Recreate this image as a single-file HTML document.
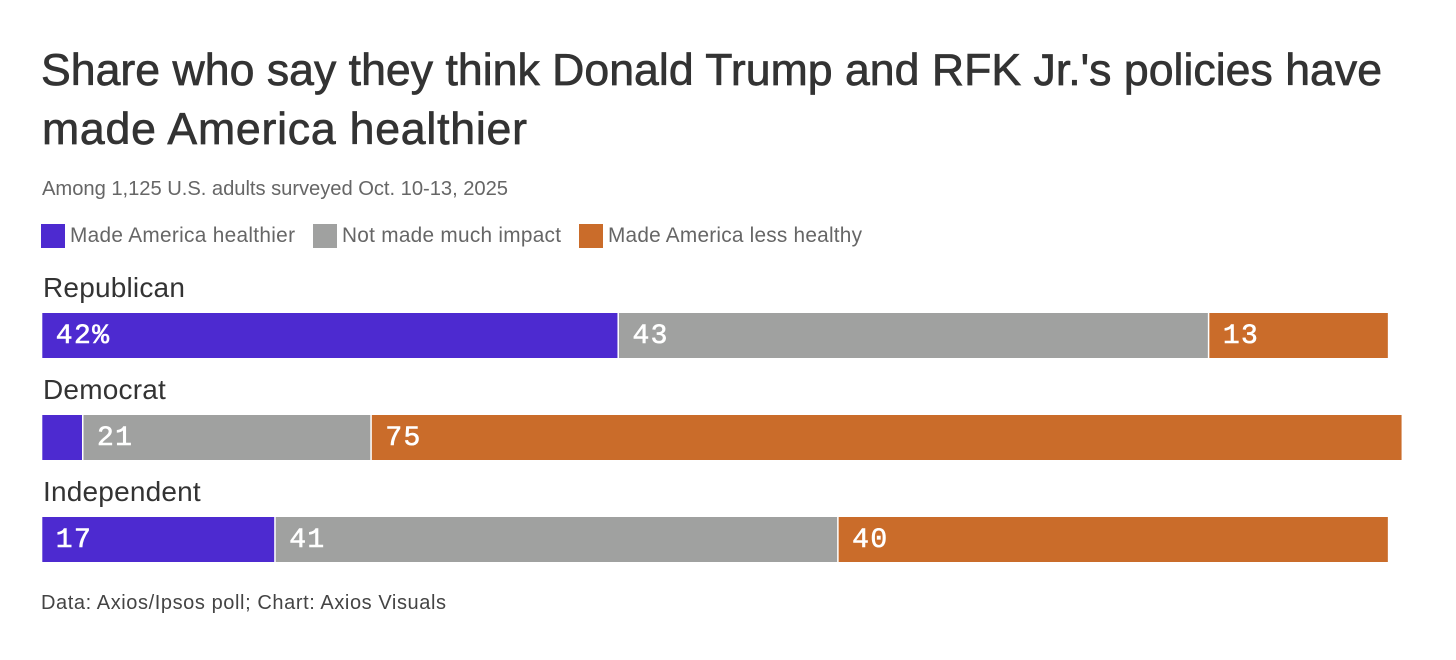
<!DOCTYPE html>
<html lang="en">
<head>
<meta charset="utf-8">
<title>Share who say they think Donald Trump and RFK Jr.'s policies have made America healthier</title>
<style>
html,body{margin:0;padding:0;background:#fff;width:1456px;height:660px;overflow:hidden}
svg{display:block}
text{font-family:"Liberation Sans",sans-serif}
.title{font-size:44.6px;fill:#333;stroke:#333;stroke-width:.7px}
.sub{font-size:20.2px;fill:#666}
.leg{font-size:20.8px;fill:#666}
.foot{font-size:20px;fill:#444}
.row{font-size:28px;fill:#333;letter-spacing:.2px}
.val{font-family:"Liberation Mono",monospace;font-size:28px;fill:#fff;stroke:#fff;stroke-width:.6px;letter-spacing:1.4px}
</style>
</head>
<body>
<svg id="chart" width="1456" height="660" viewBox="0 0 1456 660" xmlns="http://www.w3.org/2000/svg">
  <text class="title" x="41" y="85" textLength="1341" lengthAdjust="spacing">Share who say they think Donald Trump and RFK Jr.'s policies have</text>
  <text class="title" x="42" y="144" textLength="485" lengthAdjust="spacing">made America healthier</text>
  <text class="sub" x="42" y="195" textLength="466" lengthAdjust="spacing">Among 1,125 U.S. adults surveyed Oct. 10-13, 2025</text>

  <rect x="41" y="224" width="24" height="24" fill="#4d2ad0"/>
  <text class="leg" x="70" y="242" textLength="225" lengthAdjust="spacing">Made America healthier</text>
  <rect x="313" y="224" width="24" height="24" fill="#a0a1a0"/>
  <text class="leg" x="342" y="242" textLength="219" lengthAdjust="spacing">Not made much impact</text>
  <rect x="579" y="224" width="24" height="24" fill="#ca6c2a"/>
  <text class="leg" x="608" y="242" textLength="254" lengthAdjust="spacing">Made America less healthy</text>

  <g id="bars"></g>

  <text class="foot" x="41" y="609" textLength="405" lengthAdjust="spacing">Data: Axios/Ipsos poll; Chart: Axios Visuals</text>
</svg>
<script>
var categories = ['Republican', 'Democrat', 'Independent'];
var healthier = [42, 3, 17];
var noImpact = [43, 21, 41];
var lessHealthy = [13, 75, 40];
var seriesNames = ['healthier', 'no-impact', 'less-healthy'];
var seriesColors = ['#4d2ad0', '#a0a1a0', '#ca6c2a'];

var NS = 'http://www.w3.org/2000/svg';
var barsGroup = document.getElementById('bars');
var allSeries = [healthier, noImpact, lessHealthy];

function xScale(v) { return 42.3 + v * 13.73; }
function rowTop(i) { return 313 + i * 102; }

categories.forEach(function (cat, i) {
  var label = document.createElementNS(NS, 'text');
  label.setAttribute('class', 'row');
  label.setAttribute('x', 43);
  label.setAttribute('y', rowTop(i) - 16);
  
  
  label.textContent = cat;
  barsGroup.appendChild(label);

  var cum = 0;
  allSeries.forEach(function (series, s) {
    var v = series[i];
    var x0 = xScale(cum);
    var x1 = xScale(cum + v);
    var isLast = s === allSeries.length - 1;
    var rect = document.createElementNS(NS, 'rect');
    rect.setAttribute('x', x0);
    rect.setAttribute('y', rowTop(i));
    rect.setAttribute('width', Math.max(0, x1 - x0 - (isLast ? 0 : 1.5)));
    rect.setAttribute('height', 45);
    rect.setAttribute('fill', seriesColors[s]);
    
    
    barsGroup.appendChild(rect);

    if (v >= 5) {
      var t = document.createElementNS(NS, 'text');
      t.setAttribute('class', 'val');
      t.setAttribute('x', x0 + 13.5);
      t.setAttribute('y', rowTop(i) + 30);
      
      
      t.textContent = (i === 0 && s === 0) ? v + '%' : String(v);
      barsGroup.appendChild(t);
    }
    cum += v;
  });
});
</script>
</body>
</html>
